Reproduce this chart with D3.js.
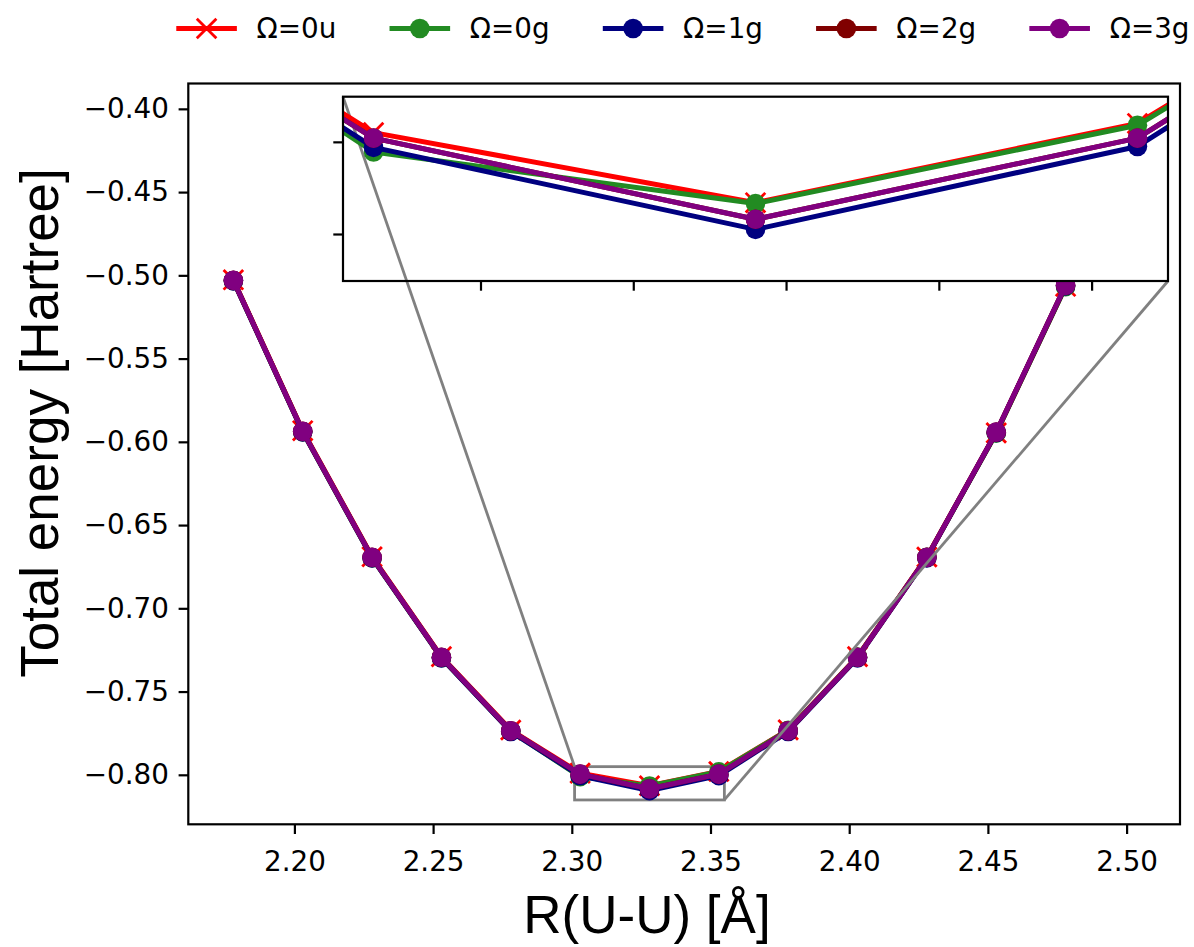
<!DOCTYPE html>
<html>
<head>
<meta charset="utf-8">
<script src="https://cdn.jsdelivr.net/npm/d3@7"></script>
<style>
  body { margin: 0; background: #fff; }
  text { font-family: 'DejaVu Sans', sans-serif; }
</style>
</head>
<body>
<svg id="svg_chart" width="1194" height="947"></svg>
<script>
// U-U distances (Angstrom) and total energies (Hartree) per Omega state
const distances = [2.178, 2.203, 2.228, 2.253, 2.278, 2.303, 2.328, 2.353, 2.378, 2.403, 2.428, 2.453, 2.478, 2.503];
const energy_0u = [-0.5027, -0.5933, -0.6690, -0.7290, -0.7731, -0.7990, -0.8066, -0.7980, -0.7730, -0.7290, -0.6692, -0.5946, -0.5066, -0.4050];
const energy_0g = [-0.5032, -0.5940, -0.6697, -0.7297, -0.7738, -0.8011, -0.8067, -0.7982, -0.7732, -0.7292, -0.6694, -0.5948, -0.5068, -0.4052];
const energy_1g = [-0.5033, -0.5940, -0.6697, -0.7298, -0.7740, -0.8006, -0.8095, -0.8005, -0.7740, -0.7298, -0.6697, -0.5944, -0.5063, -0.4065];
const energy_2g = [-0.5030, -0.5937, -0.6694, -0.7294, -0.7735, -0.7996, -0.8084, -0.7996, -0.7735, -0.7294, -0.6694, -0.5942, -0.5060, -0.4060];
const energy_3g = [-0.5030, -0.5937, -0.6694, -0.7294, -0.7735, -0.7996, -0.8084, -0.7996, -0.7735, -0.7294, -0.6694, -0.5942, -0.5060, -0.4060];

const x_ticks = [2.20, 2.25, 2.30, 2.35, 2.40, 2.45, 2.50];
const y_ticks = [-0.80, -0.75, -0.70, -0.65, -0.60, -0.55, -0.50, -0.45, -0.40];
const inset_x_ticks = [2.31, 2.32, 2.33, 2.34, 2.35];
const inset_y_ticks = [-0.81, -0.80];
const inset_x_domain = [2.301, 2.355];
const inset_y_domain = [-0.8151, -0.7951];

const series = [
  { name: 'Ω=0u', color: '#ff0000', marker: 'x', values: energy_0u },
  { name: 'Ω=0g', color: '#228b22', marker: 'o', values: energy_0g },
  { name: 'Ω=1g', color: '#000080', marker: 'o', values: energy_1g },
  { name: 'Ω=2g', color: '#800000', marker: 'o', values: energy_2g },
  { name: 'Ω=3g', color: '#800080', marker: 'o', values: energy_3g },
];

const svg = d3.select('#svg_chart');
const area = { left: 188.3, right: 1180, top: 83.5, bottom: 824.3 };
const inset_area = { left: 343, right: 1168, top: 96.7, bottom: 281 };
const tick_len = 9.7;
const tick_font = 27.8;
const label_font = 53;
const lw = 5;
const r_marker = 9.8;

// matplotlib-like 5% margins around the data
const padded = (ext) => {
  const m = (ext[1] - ext[0]) * 0.05;
  return [ext[0] - m, ext[1] + m];
};
const all_values = series.flatMap(s => s.values);

const x = d3.scaleLinear().domain(padded(d3.extent(distances))).range([area.left, area.right]);
const y = d3.scaleLinear().domain(padded(d3.extent(all_values))).range([area.bottom, area.top]);
const xi = d3.scaleLinear().domain(inset_x_domain).range([inset_area.left, inset_area.right]);
const yi = d3.scaleLinear().domain(inset_y_domain).range([inset_area.bottom, inset_area.top]);

const defs = svg.append('defs');
const addClip = (id, a) => {
  defs.append('clipPath').attr('id', id)
    .append('rect')
    .attr('x', a.left).attr('y', a.top)
    .attr('width', a.right - a.left).attr('height', a.bottom - a.top);
};
addClip('clip_main', area);
addClip('clip_inset', inset_area);

const markerPath = (h) => `M${-h},${-h}L${h},${h}M${-h},${h}L${h},${-h}`;

function drawSeries(g, sx, sy) {
  series.forEach((s) => {
    const pts = distances.map((d, i) => [sx(d), sy(s.values[i])]);
    g.append('path')
      .attr('d', d3.line()(pts))
      .attr('fill', 'none')
      .attr('stroke', s.color)
      .attr('stroke-width', lw)
      .attr('stroke-linejoin', 'round');
    const marks = g.selectAll(null).data(pts).enter();
    if (s.marker === 'x') {
      marks.append('path')
        .attr('transform', p => `translate(${p})`)
        .attr('d', markerPath(r_marker))
        .attr('stroke', s.color)
        .attr('stroke-width', 2.8)
        .attr('fill', 'none');
    } else {
      marks.append('circle')
        .attr('cx', p => p[0])
        .attr('cy', p => p[1])
        .attr('r', r_marker)
        .attr('fill', s.color);
    }
  });
}

// ---- main axes
const plot = svg.append('g');
plot.append('rect')
  .attr('x', area.left).attr('y', area.top)
  .attr('width', area.right - area.left).attr('height', area.bottom - area.top)
  .attr('fill', '#fff');

// zoom box (under the lines)
plot.append('rect')
  .attr('x', x(inset_x_domain[0])).attr('y', y(inset_y_domain[1]))
  .attr('width', x(inset_x_domain[1]) - x(inset_x_domain[0]))
  .attr('height', y(inset_y_domain[0]) - y(inset_y_domain[1]))
  .attr('fill', 'none')
  .attr('stroke', '#808080')
  .attr('stroke-width', 2.8);

drawSeries(plot.append('g').attr('clip-path', 'url(#clip_main)'), x, y);

const styleAxis = (g) => {
  g.select('.domain').remove();
  g.selectAll('.tick line').attr('stroke', '#000').attr('stroke-width', 2.2);
  g.selectAll('.tick text')
    .attr('fill', '#000')
    .style('font-size', `${tick_font}px`)
    .style('font-family', "'DejaVu Sans', sans-serif");
};

plot.append('g')
  .attr('transform', `translate(0,${area.bottom})`)
  .call(d3.axisBottom(x).tickValues(x_ticks).tickFormat(d3.format('.2f'))
    .tickSize(tick_len).tickPadding(tick_len))
  .call(styleAxis)
  .call(g => g.selectAll('.tick text').attr('dy', null).attr('y', 47));

plot.append('g')
  .attr('transform', `translate(${area.left},0)`)
  .call(d3.axisLeft(y).tickValues(y_ticks).tickFormat(d3.format('.2f'))
    .tickSize(tick_len).tickPadding(tick_len))
  .call(styleAxis);

plot.append('rect')
  .attr('x', area.left).attr('y', area.top)
  .attr('width', area.right - area.left).attr('height', area.bottom - area.top)
  .attr('fill', 'none')
  .attr('stroke', '#000')
  .attr('stroke-width', 2.2);

// ---- inset axes
const inset = svg.append('g');
inset.append('rect')
  .attr('x', inset_area.left).attr('y', inset_area.top)
  .attr('width', inset_area.right - inset_area.left)
  .attr('height', inset_area.bottom - inset_area.top)
  .attr('fill', '#fff');

// connectors from the zoom box to the inset corners
const connectors = [
  [[inset_area.left, inset_area.top], [x(inset_x_domain[0]), y(inset_y_domain[1])]],
  [[inset_area.right, inset_area.bottom], [x(inset_x_domain[1]), y(inset_y_domain[0])]],
];
inset.selectAll(null).data(connectors).enter()
  .append('path')
  .attr('d', d => d3.line()(d))
  .attr('stroke', '#808080')
  .attr('stroke-width', 2.8)
  .attr('fill', 'none');

drawSeries(inset.append('g').attr('clip-path', 'url(#clip_inset)'), xi, yi);

inset.append('g')
  .attr('transform', `translate(0,${inset_area.bottom})`)
  .call(d3.axisBottom(xi).tickValues(inset_x_ticks).tickFormat('').tickSize(tick_len))
  .call(styleAxis);
inset.append('g')
  .attr('transform', `translate(${inset_area.left},0)`)
  .call(d3.axisLeft(yi).tickValues(inset_y_ticks).tickFormat('').tickSize(tick_len))
  .call(styleAxis);

inset.append('rect')
  .attr('x', inset_area.left).attr('y', inset_area.top)
  .attr('width', inset_area.right - inset_area.left)
  .attr('height', inset_area.bottom - inset_area.top)
  .attr('fill', 'none')
  .attr('stroke', '#000')
  .attr('stroke-width', 2.2);

// ---- axis labels
svg.append('text')
  .attr('x', 647)
  .attr('y', 933)
  .attr('text-anchor', 'middle')
  .style('font-family', "'Liberation Sans', Arial, sans-serif")
  .style('font-size', `${label_font}px`)
  .text('R(U-U) [Å]');

svg.append('text')
  .attr('transform', 'translate(58,423) rotate(-90)')
  .attr('text-anchor', 'middle')
  .style('font-family', "'Liberation Sans', Arial, sans-serif")
  .style('font-size', `${label_font}px`)
  .text('Total energy [Hartree]');

// ---- legend (centered above the axes, one row)
const legend = svg.append('g');
const handle_len = 55.6;
const text_pad = 22.2;
const col_gap = 55.6;
const leg_y = 28.5;
const entries = legend.selectAll('g').data(series).enter().append('g');
entries.append('line')
  .attr('x1', 0).attr('x2', handle_len)
  .attr('y1', leg_y).attr('y2', leg_y)
  .attr('stroke', d => d.color)
  .attr('stroke-width', lw)
  .attr('stroke-linecap', 'square');
entries.each(function (d) {
  const e = d3.select(this);
  if (d.marker === 'x') {
    e.append('path')
      .attr('transform', `translate(${handle_len / 2},${leg_y})`)
      .attr('d', markerPath(r_marker))
      .attr('stroke', d.color)
      .attr('stroke-width', 2.8);
  } else {
    e.append('circle')
      .attr('cx', handle_len / 2).attr('cy', leg_y)
      .attr('r', r_marker)
      .attr('fill', d.color);
  }
});
entries.append('text')
  .attr('x', handle_len + text_pad)
  .attr('y', leg_y + 9.5)
  .style('font-size', `${tick_font}px`)
  .text(d => d.name);

let widths = [];
entries.select('text').each(function () { widths.push(this.getComputedTextLength()); });
const total = d3.sum(widths, w => handle_len + text_pad + w) + col_gap * (widths.length - 1);
let cursor = (area.left + area.right) / 2 - total / 2;
entries.attr('transform', (d, i) => {
  const t = `translate(${cursor},0)`;
  cursor += handle_len + text_pad + widths[i] + col_gap;
  return t;
});
</script>
</body>
</html>
